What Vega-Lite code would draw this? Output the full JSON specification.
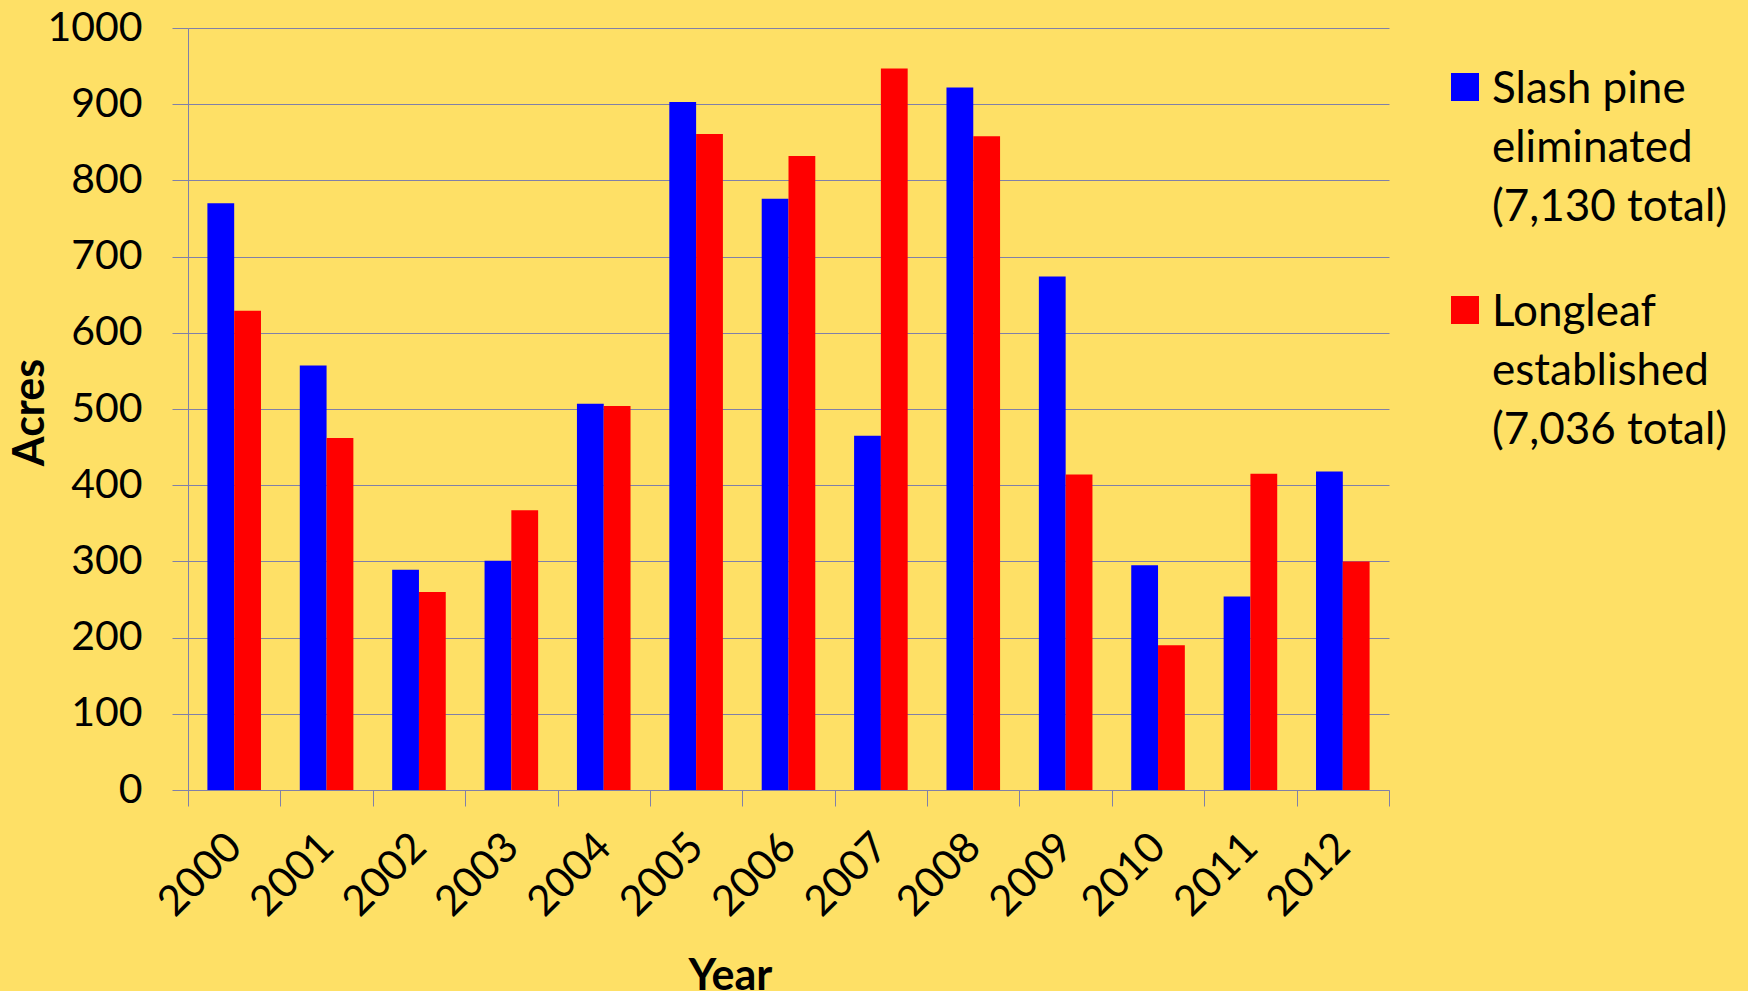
{
  "$schema": "https://vega.github.io/schema/vega-lite/v6.json",
  "width": 1201,
  "height": 762,
  "autosize": {"type": "none"},
  "padding": {"left": 188, "top": 28, "right": 359, "bottom": 201},
  "background": "#FEE066",
  "config": {
    "view": {"stroke": null},
    "font": "Lato",
    "style": {"guide-label": {"lineHeight": 59}}
  },
  "data": {
    "values": [
      {"year": "2000", "series": "Slash pine eliminated (7,130 total)", "acres": 770},
      {"year": "2000", "series": "Longleaf established (7,036 total)", "acres": 629},
      {"year": "2001", "series": "Slash pine eliminated (7,130 total)", "acres": 557},
      {"year": "2001", "series": "Longleaf established (7,036 total)", "acres": 462},
      {"year": "2002", "series": "Slash pine eliminated (7,130 total)", "acres": 289},
      {"year": "2002", "series": "Longleaf established (7,036 total)", "acres": 260},
      {"year": "2003", "series": "Slash pine eliminated (7,130 total)", "acres": 301},
      {"year": "2003", "series": "Longleaf established (7,036 total)", "acres": 367},
      {"year": "2004", "series": "Slash pine eliminated (7,130 total)", "acres": 507},
      {"year": "2004", "series": "Longleaf established (7,036 total)", "acres": 504},
      {"year": "2005", "series": "Slash pine eliminated (7,130 total)", "acres": 903},
      {"year": "2005", "series": "Longleaf established (7,036 total)", "acres": 861},
      {"year": "2006", "series": "Slash pine eliminated (7,130 total)", "acres": 776},
      {"year": "2006", "series": "Longleaf established (7,036 total)", "acres": 832},
      {"year": "2007", "series": "Slash pine eliminated (7,130 total)", "acres": 465},
      {"year": "2007", "series": "Longleaf established (7,036 total)", "acres": 947},
      {"year": "2008", "series": "Slash pine eliminated (7,130 total)", "acres": 922},
      {"year": "2008", "series": "Longleaf established (7,036 total)", "acres": 858},
      {"year": "2009", "series": "Slash pine eliminated (7,130 total)", "acres": 674},
      {"year": "2009", "series": "Longleaf established (7,036 total)", "acres": 414},
      {"year": "2010", "series": "Slash pine eliminated (7,130 total)", "acres": 295},
      {"year": "2010", "series": "Longleaf established (7,036 total)", "acres": 190},
      {"year": "2011", "series": "Slash pine eliminated (7,130 total)", "acres": 254},
      {"year": "2011", "series": "Longleaf established (7,036 total)", "acres": 415},
      {"year": "2012", "series": "Slash pine eliminated (7,130 total)", "acres": 418},
      {"year": "2012", "series": "Longleaf established (7,036 total)", "acres": 300}
    ]
  },
  "mark": {"type": "bar"},
  "encoding": {
    "x": {
      "field": "year",
      "type": "nominal",
      "scale": {"paddingInner": 0, "paddingOuter": 0},
      "axis": {
        "title": "Year",
        "titleFontSize": 43,
        "titleFontWeight": "bold",
        "titleColor": "#000000",
        "titleX": 542,
        "titleY": 186,
        "titleBaseline": "middle",
        "labelAngle": -45,
        "labelAlign": "right",
        "labelBaseline": "middle",
        "labelFontSize": 42,
        "labelColor": "#000000",
        "labelPadding": 34,
        "tickBand": "extent",
        "tickSize": 16,
        "tickColor": "#8080a8",
        "domainColor": "#8080a8",
        "grid": false
      }
    },
    "xOffset": {
      "field": "series",
      "type": "nominal",
      "sort": ["Slash pine eliminated (7,130 total)", "Longleaf established (7,036 total)"],
      "scale": {"paddingInner": 0, "paddingOuter": 0.724}
    },
    "y": {
      "field": "acres",
      "type": "quantitative",
      "scale": {"domain": [0, 1000], "nice": false},
      "axis": {
        "title": "Acres",
        "titleFontSize": 43,
        "titleFontWeight": "bold",
        "titleColor": "#000000",
        "titleX": -158,
        "titleY": 384,
        "titleAngle": -90,
        "titleAlign": "center",
        "titleBaseline": "middle",
        "values": [0, 100, 200, 300, 400, 500, 600, 700, 800, 900, 1000],
        "format": "d",
        "labelFontSize": 41,
        "labelColor": "#000000",
        "labelPadding": 30,
        "tickSize": 16,
        "tickColor": "#8080a8",
        "domainColor": "#8080a8",
        "gridColor": "#8080a8",
        "gridOpacity": 1
      }
    },
    "color": {
      "field": "series",
      "type": "nominal",
      "scale": {
        "domain": ["Slash pine eliminated (7,130 total)", "Longleaf established (7,036 total)"],
        "range": ["#0000FF", "#FF0000"]
      },
      "legend": {
        "title": null,
        "orient": "none",
        "legendX": 1255,
        "legendY": 37,
        "padding": 0,
        "symbolType": "square",
        "symbolSize": 784,
        "symbolStrokeWidth": 0,
        "symbolOpacity": 1,
        "labelFontSize": 44,
        "labelColor": "#000000",
        "labelBaseline": "top",
        "labelLimit": 400,
        "labelOffset": 5,
        "rowPadding": 58,
        "labelExpr": "datum.label == 'Slash pine eliminated (7,130 total)' ? ['Slash pine', 'eliminated', '(7,130 total)'] : ['Longleaf', 'established', '(7,036 total)']",
        "encoding": {"labels": {"dy": {"value": -19}}}
      }
    }
  }
}
